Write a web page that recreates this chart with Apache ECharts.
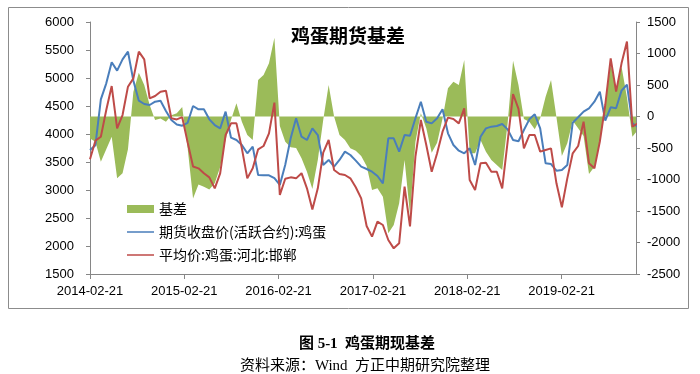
<!DOCTYPE html>
<html>
<head>
<meta charset="utf-8">
<script src="https://cdn.jsdelivr.net/npm/echarts@6/dist/echarts.min.js"></script>
<style>
html,body{margin:0;padding:0;background:#fff;}
#chart{width:700px;height:374px;}
</style>
</head>
<body>
<div id="chart"></div>
<script>
// Sampling grid: one reading every 21 days from the first date
const startDate = '2014-02-21';
const stepDays = 21;
const lastAxisDay = 2114;
const xTickLabels = ['2014-02-21','2015-02-21','2016-02-21','2017-02-21','2018-02-21','2019-02-21'];
const leftTicks = [1500, 6000, 500];
const rightTicks = [-2500, 1500, 500];

const seriesNames = ['基差', '期货收盘价(活跃合约):鸡蛋', '平均价:鸡蛋:河北:邯郸'];

const futuresClose = [
3715,3800,4619,4905,5280,5131,5333,5470,4950,4595,
4536,4518,4577,4595,4411,4250,4170,4148,4200,4500,
4441,4441,4262,4160,4101,4399,3934,3893,3804,3655,
3774,3268,3262,3262,3210,3090,3450,3923,4280,3952,
3893,4101,3982,3446,3536,3417,3536,3685,3625,3524,
3417,3375,3327,3250,3120,3923,3923,3685,3982,3970,
4280,4577,4220,4190,4280,4441,4012,3804,3702,3655,
3744,3446,3952,4101,4131,4143,4179,4083,3893,3870,
4071,4262,4351,4101,3476,3464,3345,3357,3446,4202,
4298,4399,4459,4577,4756,4238,4476,4459,4774,4880,
4190,4131
];

const spotPrice = [
3548,3881,3952,4429,4857,4101,4339,4845,4994,5470,
5333,4637,4679,4756,4774,4280,4260,4300,3850,3420,
3387,3298,3226,3030,3298,3982,4190,4190,3744,3208,
3387,3726,3786,4012,4560,2911,3200,3226,3208,3300,
3030,2650,3030,3667,3893,3357,3286,3268,3208,3048,
2851,2357,2167,2435,2375,2107,1958,2048,3060,2350,
3595,4250,3804,3327,3655,4042,4292,4268,4190,4458,
3179,3000,3476,3488,3327,3327,3030,3863,4714,4450,
3744,3982,3982,3685,3715,3744,3119,2691,3208,3655,
3786,4220,3476,3387,3863,4518,5351,4756,5262,5650,
4131,4190
];

const basis = [
-350,-400,-720,-520,-320,-980,-900,-520,394,696,
500,182,-55,-30,-82,20,50,150,-500,-1300,
-1080,-1114,-1157,-1060,-800,-370,-50,209,-82,-294,
-373,579,659,844,1250,-150,-400,-489,-500,-664,
-876,-1150,-690,-56,500,0,-294,-373,-505,-542,
-627,-786,-1167,-1140,-1272,-1855,-1722,-1378,-690,-1550,
-400,50,-188,-574,-415,-30,447,553,500,897,
-585,-585,-373,-558,-690,-770,-849,-109,886,500,
-40,-82,-204,-30,315,579,-10,-627,-426,-66,
-188,-310,-913,-796,-426,183,844,394,791,300,
-320,-214
];

const DAY = 86400000;
const t0 = Date.parse(startDate + 'T00:00:00Z');
// x = days since startDate
const days = futuresClose.map((_, i) => i * stepDays);
const pair = arr => arr.map((v, i) => [days[i], v]);
const tickDays = xTickLabels.map(s => Math.round((Date.parse(s + 'T00:00:00Z') - t0) / DAY));
const labelFor = v => {
  const k = tickDays.indexOf(Math.round(v));
  return k >= 0 ? xTickLabels[k] : '';
};

const chart = echarts.init(document.getElementById('chart'), null, {renderer: 'canvas'});
const axisGrey = '#868686';
const labelFont = {fontFamily: 'Liberation Sans', fontSize: 13, color: '#000'};
const lineIcon = 'path://M0,0L0.01,0ZM0,3.2L27,3.2L27,4.8L0,4.8ZM0,8L0.01,8Z';

chart.setOption({
  animation: false,
  backgroundColor: '#fff',
  title: {
    text: '鸡蛋期货基差',
    left: 343, top: 21, textAlign: 'center',
    textStyle: {fontFamily: 'Noto Sans CJK SC', fontSize: 19, fontWeight: 'bold', color: '#000'}
  },
  graphic: [
    {type: 'rect', shape: {x: 8.5, y: 7.5, width: 680, height: 301}, style: {fill: 'none', stroke: '#8c8c8c', lineWidth: 1}, z: -1},
    {type: 'text', x: 367, y: 344, style: {text: '图 5-1  鸡蛋期现基差', fontFamily: 'Liberation Serif, Noto Sans CJK SC', fontSize: 15, fontWeight: 'bold', fill: '#000', align: 'center', verticalAlign: 'middle'}},
    {type: 'text', x: 365, y: 366, style: {text: '资料来源：Wind  方正中期研究院整理', fontFamily: 'Liberation Serif, Noto Sans CJK SC', fontSize: 15, fill: '#000', align: 'center', verticalAlign: 'middle'}}
  ],
  legend: {
    orient: 'vertical',
    left: 122, top: 197,
    itemWidth: 27, itemHeight: 8, itemGap: 9,
    textStyle: {fontFamily: 'Noto Sans CJK SC', fontSize: 14, color: '#000'},
    data: [
      {name: seriesNames[0], icon: 'rect'},
      {name: seriesNames[1], icon: lineIcon},
      {name: seriesNames[2], icon: lineIcon}
    ]
  },
  grid: {left: 90, right: 64, top: 22, bottom: 100, containLabel: false},
  xAxis: {
    type: 'value',
    min: 0,
    max: lastAxisDay,
    axisLine: {onZero: false, lineStyle: {color: axisGrey}},
    axisTick: {show: true, length: 5, lineStyle: {color: axisGrey}, customValues: tickDays},
    axisLabel: Object.assign({customValues: tickDays, margin: 11, formatter: v => labelFor(v)}, labelFont),
    splitLine: {show: false}
  },
  yAxis: [
    {
      type: 'value', min: leftTicks[0], max: leftTicks[1], interval: leftTicks[2],
      axisLine: {show: true, lineStyle: {color: axisGrey}},
      axisTick: {show: true, length: 4, lineStyle: {color: axisGrey}},
      axisLabel: Object.assign({margin: 16, formatter: v => String(v)}, labelFont),
      splitLine: {show: false}
    },
    {
      type: 'value', min: rightTicks[0], max: rightTicks[1], interval: rightTicks[2],
      position: 'right',
      axisLine: {show: true, lineStyle: {color: axisGrey}},
      axisTick: {show: true, length: 4, lineStyle: {color: axisGrey}},
      axisLabel: Object.assign({margin: 11, formatter: v => String(v)}, labelFont),
      splitLine: {show: false}
    }
  ],
  series: [
    {
      name: seriesNames[0], type: 'line', yAxisIndex: 1,
      data: pair(basis), symbol: 'none', clip: true,
      lineStyle: {width: 0, color: '#9BBB59'},
      itemStyle: {color: '#9BBB59'},
      areaStyle: {color: '#9BBB59', opacity: 1, origin: 0},
      z: 1
    },
    {
      name: seriesNames[1], type: 'line', yAxisIndex: 0,
      data: pair(futuresClose), symbol: 'none', clip: true,
      lineStyle: {width: 2, color: '#4A7EBB'}, itemStyle: {color: '#4A7EBB'},
      z: 3
    },
    {
      name: seriesNames[2], type: 'line', yAxisIndex: 0,
      data: pair(spotPrice), symbol: 'none', clip: true,
      lineStyle: {width: 2, color: '#BE4B48'}, itemStyle: {color: '#BE4B48'},
      z: 4
    }
  ]
});
</script>
</body>
</html>
